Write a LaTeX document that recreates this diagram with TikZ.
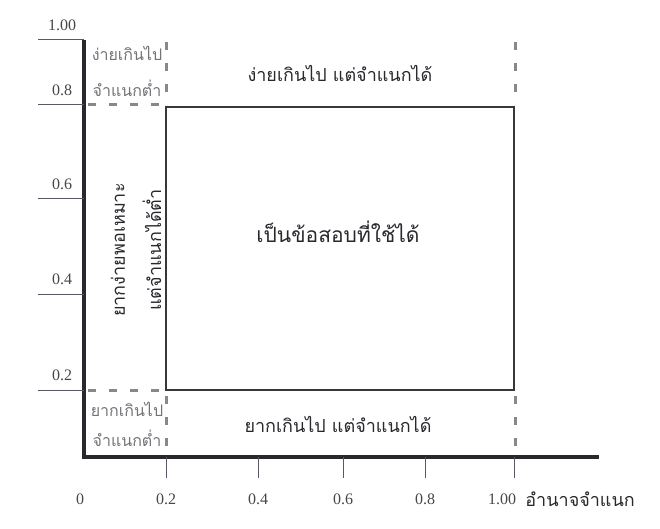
\documentclass[tikz,border=0pt]{standalone}
\usepackage{fontspec}
\setmainfont{Liberation Serif}
\newfontfamily\thaifont[Script=Thai]{Loma}
\usepackage{tikz}
\usetikzlibrary{positioning}
\definecolor{axisgray}{RGB}{40,40,45}
\definecolor{boxgray}{RGB}{55,55,60}
\definecolor{dashgray}{RGB}{135,135,140}
\definecolor{tickgray}{RGB}{85,90,100}
\definecolor{numgray}{RGB}{70,70,75}
\definecolor{softgray}{RGB}{115,115,120}

\begin{document}
\begin{tikzpicture}[
  x=1pt, y=-1pt,
  axis/.style={draw=axisgray, line width=3.4pt},
  zone/.style={draw=boxgray, line width=2.8pt},
  split/.style={draw=dashgray, line width=3pt, dash pattern=on 8pt off 13pt},
  tick/.style={draw=tickgray, line width=1pt},
  num/.style={font=\fontsize{16}{18}\selectfont, text=numgray, inner sep=0pt},
  lbl/.style={font=\thaifont\fontsize{18}{20}\selectfont, text=axisgray, inner sep=0pt},
  corner/.style={font=\thaifont\fontsize{16}{18}\selectfont, text=softgray, inner sep=0pt}
]
  \useasboundingbox (0,0) rectangle (660,529);
  % Axes
  \coordinate (origin) at (84,457);
  \coordinate (ytop)   at (84,40);
  \coordinate (xend)   at (599,457);
  \draw[axis] (ytop) -- (origin) -- (xend);
  % Y ticks
  \foreach \v/\py in {1.00/40, 0.8/105, 0.6/199, 0.4/294, 0.2/390} {
    \draw[tick] (38,\py) -- (84,\py);
    \node[num] at (62,\py-15) {\v};
  }
  % X ticks
  \foreach \v/\px in {0.2/166, 0.4/258, 0.6/343, 0.8/425} {
    \draw[tick] (\px,457) -- (\px,478);
    \node[num] at (\px,499) {\v};
  }
  \draw[tick] (514,457) -- (514,478);
  \node[num] (x0)   at (80,499)  {0};
  \node[num] (x100) at (502,499) {1.00};
  \node[lbl, right=9pt of x100] (xlab) {อำนาจจำแนก};
  % Region borders
  \coordinate (bl) at (166,390);
  \coordinate (tr) at (514,107);
  \draw[zone] (bl) rectangle (tr);
  \draw[split] (166,42) -- (166,105);
  \draw[split] (515,42) -- (515,105);
  \draw[split] (166,396) -- (166,457);
  \draw[split] (515,396) -- (515,457);
  \draw[split] (88,105) -- (166,105);
  \draw[split] (88,390) -- (166,390);
  % Region labels
  \node[lbl] (top) at (340,73) {ง่ายเกินไป\ แต่จำแนกได้};
  \node[lbl, font=\thaifont\fontsize{21}{24}\selectfont] (good) at (338,232)
    {เป็นข้อสอบที่ใช้ได้};
  \node[lbl] (bot) at (338,424) {ยากเกินไป\ แต่จำแนกได้};
  \node[lbl, rotate=90] (midA) at (118,250) {ยากง่ายพอเหมาะ};
  \node[lbl, rotate=90] (midB) at (152,250) {แต่จำแนกได้ต่ำ};
  \node[corner] (tlA) at (127,53) {ง่ายเกินไป};
  \node[corner] (tlB) at (127,88) {จำแนกต่ำ};
  \node[corner] (blA) at (127,409) {ยากเกินไป};
  \node[corner] (blB) at (127,438) {จำแนกต่ำ};
\end{tikzpicture}
\end{document}
